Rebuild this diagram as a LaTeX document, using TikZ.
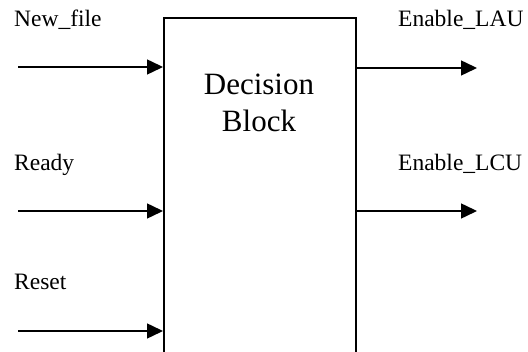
\documentclass[tikz,border=0pt]{standalone}
\usepackage{fontspec}
\setmainfont{Liberation Serif}
\usetikzlibrary{arrows.meta}
\begin{document}
\begin{tikzpicture}[x=1pt,y=-1pt,
  sig/.style={font=\fontsize{23.5}{28}\selectfont, anchor=base west, inner sep=0pt},
  wire/.style={line width=1.5pt, -{Triangle[length=16pt,width=15pt]}},
  blockbox/.style={draw, line width=2pt, minimum width=192pt, minimum height=350pt, inner sep=0pt, anchor=north west}]
  \useasboundingbox (0,0) rectangle (528,352);
  \clip (0,0) rectangle (528,352);
  % decision block (bottom edge runs past the page)
  \node[blockbox] (blk) at (163,17) {};
  \node[font=\fontsize{31}{36}\selectfont, anchor=base, inner sep=0pt] (t1) at (259,95) {Decision};
  \node[font=\fontsize{31}{36}\selectfont, anchor=base, inner sep=0pt] (t2) at (259,132) {Block};
  % input labels
  \node[sig] (lnew) at (14,27) {New\_file};
  \node[sig] (lready) at (14,171) {Ready};
  \node[sig] (lreset) at (14,290) {Reset};
  % output labels
  \node[sig] (llau) at (398,27) {Enable\_LAU};
  \node[sig] (llcu) at (398,171) {Enable\_LCU};
  % free ends of the wires
  \coordinate (inew) at (18,67);
  \coordinate (iready) at (18,211);
  \coordinate (ireset) at (18,331);
  \coordinate (olau) at (477,68);
  \coordinate (olcu) at (477,211);
  % inputs
  \draw[wire] (inew) -- (inew -| blk.west);
  \draw[wire] (iready) -- (iready -| blk.west);
  \draw[wire] (ireset) -- (ireset -| blk.west);
  % outputs
  \draw[wire] (olau -| blk.east) -- (olau);
  \draw[wire] (olcu -| blk.east) -- (olcu);
\end{tikzpicture}
\end{document}
